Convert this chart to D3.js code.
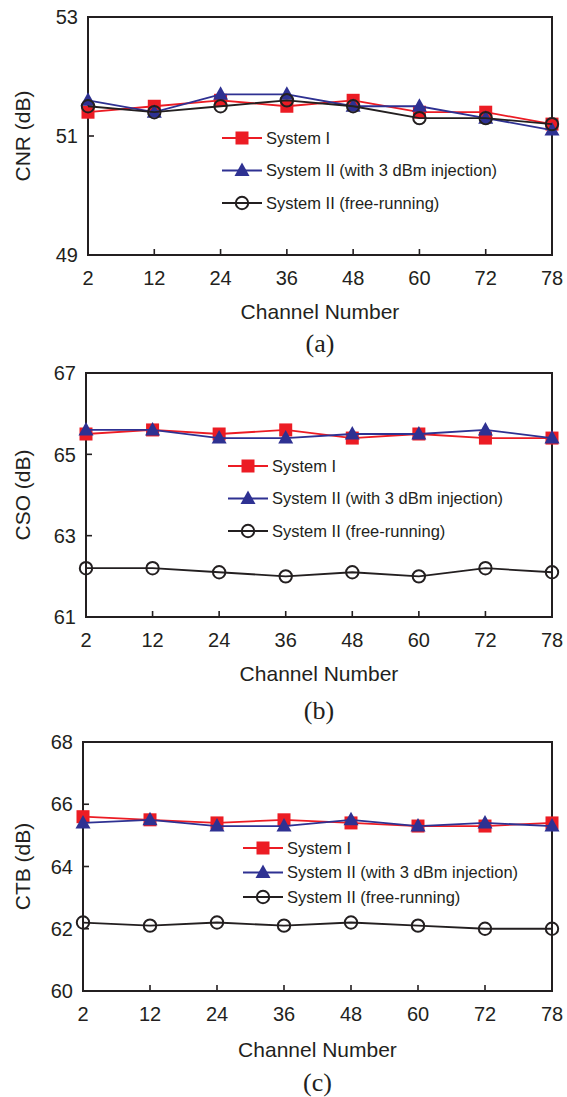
<!DOCTYPE html>
<html>
<head>
<meta charset="utf-8">
<script src="https://cdn.jsdelivr.net/npm/d3@7/dist/d3.min.js"></script>
<style>
  body { margin: 0; background: #fff; }
  text { font-family: "Liberation Sans", Arial, sans-serif; fill: #231f20; }
</style>
</head>
<body>
<script>
const channels = ["2", "12", "24", "36", "48", "60", "72", "78"];
const seriesNames = ["System I", "System II (with 3 dBm injection)", "System II (free-running)"];

// CNR (dB)
const cnrSystem1 = [51.4, 51.5, 51.6, 51.5, 51.6, 51.4, 51.4, 51.2];
const cnrInjection = [51.6, 51.4, 51.7, 51.7, 51.5, 51.5, 51.3, 51.1];
const cnrFree = [51.5, 51.4, 51.5, 51.6, 51.5, 51.3, 51.3, 51.2];
const cnrTicks = [49, 51, 53];

// CSO (dB)
const csoSystem1 = [65.5, 65.6, 65.5, 65.6, 65.4, 65.5, 65.4, 65.4];
const csoInjection = [65.6, 65.6, 65.4, 65.4, 65.5, 65.5, 65.6, 65.4];
const csoFree = [62.2, 62.2, 62.1, 62.0, 62.1, 62.0, 62.2, 62.1];
const csoTicks = [61, 63, 65, 67];

// CTB (dB)
const ctbSystem1 = [65.6, 65.5, 65.4, 65.5, 65.4, 65.3, 65.3, 65.4];
const ctbInjection = [65.4, 65.5, 65.3, 65.3, 65.5, 65.3, 65.4, 65.3];
const ctbFree = [62.2, 62.1, 62.2, 62.1, 62.2, 62.1, 62.0, 62.0];
const ctbTicks = [60, 62, 64, 66, 68];

const red = "#ec1c24", blue = "#2e3192", black = "#231f20";
const colors = [red, blue, black];
const shapes = ["square", "triangle", "circle"];

const svg = d3.select("body").append("svg")
  .attr("width", 567)
  .attr("height", 1097);

function drawMarker(g, shape, x, y) {
  if (shape == "square") {
    g.append("rect").attr("x", x - 6.5).attr("y", y - 6.5)
      .attr("width", 13).attr("height", 13).attr("fill", red);
  } else if (shape == "triangle") {
    g.append("path")
      .attr("d", `M${x},${y - 8}L${x + 7.5},${y + 5.5}L${x - 7.5},${y + 5.5}Z`)
      .attr("fill", blue);
  } else {
    g.append("circle").attr("cx", x).attr("cy", y).attr("r", 6.2)
      .attr("fill", "none").attr("stroke", black).attr("stroke-width", 2);
  }
}

function panel(opt) {
  const g = svg.append("g");
  const x = d3.scalePoint().domain(channels).range([opt.left, opt.right]);
  const y = d3.scaleLinear().domain([opt.ticks[0], opt.ticks[opt.ticks.length - 1]])
    .range([opt.bottom, opt.top]);

  // inner ticks on left axis
  g.selectAll(".ytick").data(opt.ticks.slice(1, -1)).enter().append("line")
    .attr("x1", opt.left).attr("x2", opt.left + 6)
    .attr("y1", d => y(d)).attr("y2", d => y(d))
    .attr("stroke", black).attr("stroke-width", 1.6);

  // inner ticks on bottom axis
  g.selectAll(".xtick").data(channels.slice(1, -1)).enter().append("line")
    .attr("x1", d => x(d)).attr("x2", d => x(d))
    .attr("y1", opt.bottom).attr("y2", opt.bottom - 6)
    .attr("stroke", black).attr("stroke-width", 1.6);

  g.append("rect")
    .attr("x", opt.left).attr("y", opt.top)
    .attr("width", opt.right - opt.left).attr("height", opt.bottom - opt.top)
    .attr("fill", "none").attr("stroke", black).attr("stroke-width", 2);

  g.selectAll(".ylab").data(opt.ticks).enter().append("text")
    .attr("x", opt.left - 10).attr("y", d => y(d)).attr("dy", "0.36em")
    .attr("text-anchor", "end").attr("font-size", 20)
    .text(d => d);

  g.selectAll(".xlab").data(channels).enter().append("text")
    .attr("x", d => x(d)).attr("y", opt.bottom + 23).attr("dy", "0.36em")
    .attr("text-anchor", "middle").attr("font-size", 20)
    .text(d => d);

  g.append("text")
    .attr("x", (opt.left + opt.right) / 2).attr("y", opt.bottom + opt.titleGap)
    .attr("dy", "0.36em").attr("text-anchor", "middle").attr("font-size", 21)
    .text("Channel Number");

  g.append("text")
    .attr("transform", `translate(22,${(opt.top + opt.bottom) / 2}) rotate(-90)`)
    .attr("dy", "0.36em").attr("text-anchor", "middle").attr("font-size", 21)
    .text(opt.yTitle);

  g.append("text")
    .attr("x", (opt.left + opt.right) / 2).attr("y", opt.bottom + opt.labelGap)
    .attr("dy", "0.36em").attr("text-anchor", "middle").attr("font-size", 26)
    .style("font-family", "'Liberation Serif', 'Times New Roman', serif")
    .text(opt.label);

  const line = d3.line().x((d, i) => x(channels[i])).y(d => y(d));

  opt.series.forEach(function(vals, s) {
    g.append("path").datum(vals)
      .attr("d", line)
      .attr("fill", "none").attr("stroke", colors[s]).attr("stroke-width", 1.8);
    vals.forEach(function(v, i) {
      drawMarker(g, shapes[s], x(channels[i]), y(v));
    });
  });

  // legend
  seriesNames.forEach(function(name, s) {
    const ly = opt.legY + s * opt.legStep;
    g.append("line")
      .attr("x1", opt.legX).attr("x2", opt.legX + 40)
      .attr("y1", ly).attr("y2", ly)
      .attr("stroke", colors[s]).attr("stroke-width", 1.8);
    drawMarker(g, shapes[s], opt.legX + 20, ly);
    g.append("text")
      .attr("x", opt.legX + 44).attr("y", ly).attr("dy", "0.36em")
      .attr("font-size", 16.5)
      .text(name);
  });
}

panel({
  left: 88, right: 552, top: 17, bottom: 255,
  ticks: cnrTicks, yTitle: "CNR (dB)", label: "(a)",
  series: [cnrSystem1, cnrInjection, cnrFree],
  titleGap: 56, labelGap: 88,
  legX: 222, legY: 138, legStep: 32.5
});

panel({
  left: 86, right: 552, top: 373, bottom: 617,
  ticks: csoTicks, yTitle: "CSO (dB)", label: "(b)",
  series: [csoSystem1, csoInjection, csoFree],
  titleGap: 56, labelGap: 93,
  legX: 228, legY: 466, legStep: 32.5
});

panel({
  left: 83, right: 552, top: 742, bottom: 991,
  ticks: ctbTicks, yTitle: "CTB (dB)", label: "(c)",
  series: [ctbSystem1, ctbInjection, ctbFree],
  titleGap: 58, labelGap: 91,
  legX: 243, legY: 848, legStep: 24.5
});
</script>
</body>
</html>
